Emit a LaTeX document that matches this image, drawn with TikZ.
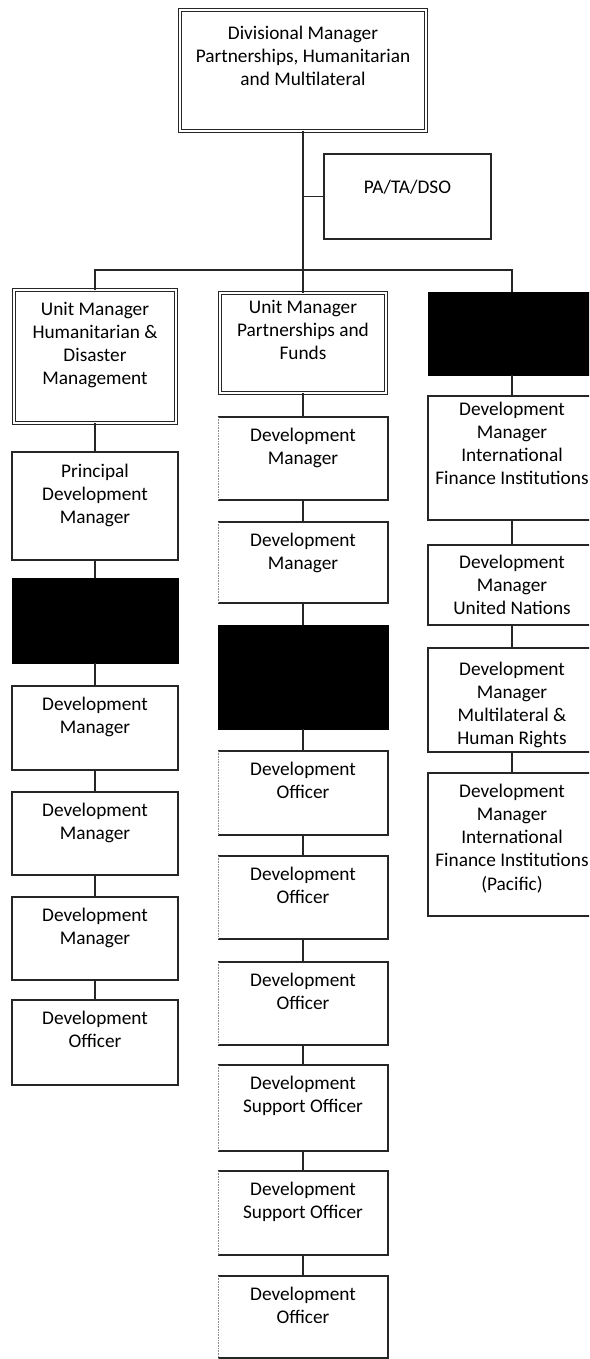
\documentclass[tikz,border=0pt]{standalone}
\usepackage{fontspec}
\setmainfont{Carlito}
\begin{document}
\begin{tikzpicture}[x=1pt,y=-1pt,
  every node/.style={inner sep=0pt, outer sep=0pt},
  line/.style={draw=black!85, line width=1.1pt},
  faint/.style={draw=black!45, line width=0.6pt, densely dotted},
  box/.style={line, fill=white},
  dbox/.style={draw=black!85, line width=0.9pt, double=white, double distance=2.4pt},
  openbox/.style={fill=white},
  blackbox/.style={draw=black, fill=black, line width=1pt},
  lbl/.style={font=\fontsize{19.3}{23.3}\selectfont, align=center, text=black,
              anchor=north, yshift=16.3pt},
]
% page frame
\useasboundingbox (0,0) rectangle (589,1359);
\clip (0,0) rectangle (589,1359);

% #1 name, #2 style, #3 x1, #4 y1, #5 x2, #6 y2, #7 baseline offset, #8 text
\newcommand\orgbox[8]{%
  \node[#2, minimum width={(#5-#3)*1pt}, minimum height={(#6-#4)*1pt}, anchor=north]
    (#1) at ({(#3+#5)/2},#4) {};
  \node[lbl] (#1-t) at ({(#3+#5)/2},#4+#7) {\strut #8};
}
\newcommand\blackrole[5]{%
  \node[blackbox, minimum width={(#4-#2)*1pt}, minimum height={(#5-#3)*1pt}, anchor=north]
    (#1) at ({(#2+#4)/2},#3) {};
}

% ---- head of division and support role
\orgbox{head}{dbox}{180}{10}{426}{131}{29}{Divisional Manager\\Partnerships, Humanitarian\\and Multilateral}
\orgbox{pa}{box}{324}{154}{491}{239}{39}{PA/TA/DSO}

% ---- unit managers
\orgbox{uh}{dbox}{14}{290}{176}{423}{25}{Unit Manager\\Humanitarian \&\\Disaster\\Management}
\orgbox{up}{dbox}{220}{293}{386}{393}{20}{Unit Manager\\Partnerships and\\Funds}
\blackrole{um}{428}{292}{596}{375}

% ---- humanitarian & disaster management unit
\orgbox{h1}{box}{12}{452}{178}{560}{25}{Principal\\Development\\Manager}
\blackrole{h2}{12}{578}{178}{663}
\orgbox{h3}{box}{12}{686}{178}{770}{24}{Development\\Manager}
\orgbox{h4}{box}{12}{792}{178}{875}{24}{Development\\Manager}
\orgbox{h5}{box}{12}{897}{178}{980}{24}{Development\\Manager}
\orgbox{h6}{box}{12}{1000}{178}{1085}{24}{Development\\Officer}

% ---- partnerships and funds unit
\orgbox{p1}{openbox}{218}{417}{388}{500}{24}{Development\\Manager}
\orgbox{p2}{openbox}{218}{522}{388}{603}{24}{Development\\Manager}
\blackrole{p3}{218}{625}{388}{729}
\orgbox{p4}{openbox}{218}{751}{388}{835}{24}{Development\\Officer}
\orgbox{p5}{openbox}{218}{856}{388}{939}{24}{Development\\Officer}
\orgbox{p6}{openbox}{218}{962}{388}{1045}{24}{Development\\Officer}
\orgbox{p7}{openbox}{218}{1065}{388}{1151}{24}{Development\\Support Officer}
\orgbox{p8}{openbox}{218}{1171}{388}{1255}{24}{Development\\Support Officer}
\orgbox{p9}{openbox}{218}{1276}{388}{1358}{24}{Development\\Officer}
\foreach \n in {p1,p2,p4,p5,p6,p7,p8,p9}{
  \draw[line] (\n.north west) -- (\n.north east) -- (\n.south east) -- (\n.south west);
  \draw[faint] (\n.north west) -- (\n.south west);
}

% ---- multilateral unit
\orgbox{m1}{box}{428}{396}{596}{520}{19}{Development\\Manager\\International\\Finance Institutions}
\orgbox{m2}{box}{428}{545}{596}{625}{23}{Development\\Manager\\United Nations}
\orgbox{m3}{box}{428}{648}{596}{752}{27}{Development\\Manager\\Multilateral \&\\Human Rights}
\orgbox{m4}{box}{428}{773}{596}{916}{24}{Development\\Manager\\International\\Finance Institutions\\(Pacific)}

% ---- reporting lines
\coordinate (bus) at (303,270);
\draw[line] (head.south) -- (bus);
\draw[line] (pa.west) -- (pa.west -| head.south);
\draw[line] (uh.north) |- (bus) -| (um.north);
\draw[line] (bus) -- (up.north);

\draw[line] (uh.south) -- (h1.north);
\draw[line] (h1.south) -- (h2.north);
\draw[line] (h2.south) -- (h3.north);
\draw[line] (h3.south) -- (h4.north);
\draw[line] (h4.south) -- (h5.north);
\draw[line] (h5.south) -- (h6.north);

\draw[line] (up.south) -- (p1.north);
\draw[line] (p1.south) -- (p2.north);
\draw[line] (p2.south) -- (p3.north);
\draw[line] (p3.south) -- (p4.north);
\draw[line] (p4.south) -- (p5.north);
\draw[line] (p5.south) -- (p6.north);
\draw[line] (p6.south) -- (p7.north);
\draw[line] (p7.south) -- (p8.north);
\draw[line] (p8.south) -- (p9.north);

\draw[line] (um.south) -- (m1.north);
\draw[line] (m1.south) -- (m2.north);
\draw[line] (m2.south) -- (m3.north);
\draw[line] (m3.south) -- (m4.north);
\end{tikzpicture}
\end{document}
